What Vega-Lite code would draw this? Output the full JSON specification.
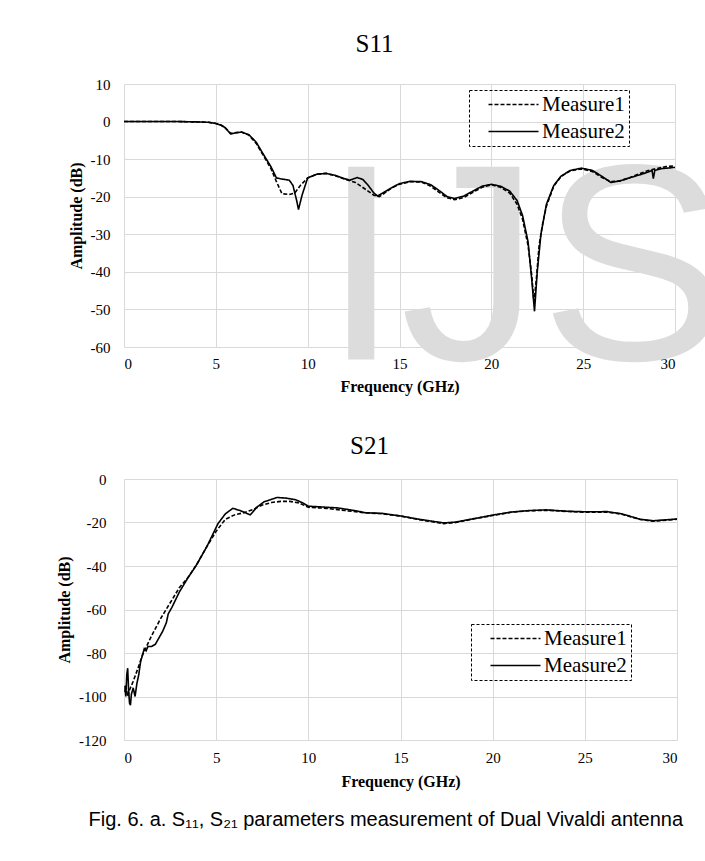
{
  "$schema": "https://vega.github.io/schema/vega-lite/v6.json",
  "background": "white",
  "padding": {"left": 56, "top": 32, "right": 5, "bottom": 5},
  "title": {
    "text": "Fig. 6. a. S₁₁, S₂₁ parameters measurement of Dual Vivaldi antenna",
    "orient": "bottom",
    "anchor": "start",
    "dx": 32,
    "offset": 21,
    "font": "Liberation Sans",
    "fontSize": 20,
    "fontWeight": "normal",
    "color": "black"
  },
  "config": {
    "view": {"stroke": null},
    "axis": {
      "labelFont": "Liberation Serif",
      "labelFontSize": 15,
      "labelColor": "black",
      "titleFont": "Liberation Serif",
      "titleFontSize": 16,
      "titleFontWeight": "bold",
      "titleColor": "black",
      "gridColor": "#d9d9d9",
      "gridWidth": 1,
      "domain": false,
      "ticks": false,
      "zindex": 1
    },
    "legend": {
      "title": null,
      "orient": "none",
      "symbolType": "M-5,0H5",
      "symbolSize": 100,
      "symbolStrokeWidth": 1.5,
      "symbolStrokeColor": "black",
      "symbolFillColor": "transparent",
      "symbolOffset": 30,
      "labelOffset": 18,
      "labelFont": "Liberation Serif",
      "labelFontSize": 21,
      "labelColor": "black",
      "strokeColor": "black",
      "padding": 4,
      "rowPadding": 5
    }
  },
  "datasets": {
    "s11": [
      {"f": 0, "a": 0, "s": "Measure2"}, {"f": 1, "a": 0, "s": "Measure2"}, {"f": 2, "a": 0, "s": "Measure2"}, {"f": 3, "a": 0, "s": "Measure2"}, {"f": 4, "a": -0.1, "s": "Measure2"}, {"f": 4.6, "a": -0.2, "s": "Measure2"}, {"f": 5, "a": -0.5, "s": "Measure2"}, {"f": 5.3, "a": -1, "s": "Measure2"}, {"f": 5.5, "a": -1.6, "s": "Measure2"}, {"f": 5.8, "a": -3.3, "s": "Measure2"}, {"f": 6.1, "a": -3, "s": "Measure2"}, {"f": 6.4, "a": -2.8, "s": "Measure2"}, {"f": 6.8, "a": -3.5, "s": "Measure2"}, {"f": 7.2, "a": -5.5, "s": "Measure2"}, {"f": 7.5, "a": -8, "s": "Measure2"}, {"f": 8.0, "a": -12, "s": "Measure2"}, {"f": 8.3, "a": -15, "s": "Measure2"}, {"f": 8.6, "a": -15.3, "s": "Measure2"}, {"f": 9.0, "a": -15.6, "s": "Measure2"}, {"f": 9.2, "a": -17, "s": "Measure2"}, {"f": 9.4, "a": -21, "s": "Measure2"}, {"f": 9.5, "a": -23.4, "s": "Measure2"}, {"f": 9.7, "a": -19.5, "s": "Measure2"}, {"f": 10.0, "a": -15, "s": "Measure2"}, {"f": 10.5, "a": -14, "s": "Measure2"}, {"f": 11, "a": -13.8, "s": "Measure2"}, {"f": 11.5, "a": -14.3, "s": "Measure2"}, {"f": 12, "a": -15.2, "s": "Measure2"}, {"f": 12.3, "a": -15.6, "s": "Measure2"}, {"f": 12.7, "a": -14.9, "s": "Measure2"}, {"f": 13.0, "a": -15.4, "s": "Measure2"}, {"f": 13.3, "a": -17, "s": "Measure2"}, {"f": 13.6, "a": -19, "s": "Measure2"}, {"f": 13.8, "a": -19.8, "s": "Measure2"}, {"f": 14.1, "a": -19, "s": "Measure2"}, {"f": 14.5, "a": -17.8, "s": "Measure2"}, {"f": 15, "a": -16.5, "s": "Measure2"}, {"f": 15.6, "a": -15.9, "s": "Measure2"}, {"f": 16.2, "a": -16, "s": "Measure2"}, {"f": 16.7, "a": -16.8, "s": "Measure2"}, {"f": 17.2, "a": -18.5, "s": "Measure2"}, {"f": 17.6, "a": -20, "s": "Measure2"}, {"f": 18, "a": -20.5, "s": "Measure2"}, {"f": 18.5, "a": -19.8, "s": "Measure2"}, {"f": 19, "a": -18.5, "s": "Measure2"}, {"f": 19.5, "a": -17.2, "s": "Measure2"}, {"f": 20, "a": -16.7, "s": "Measure2"}, {"f": 20.5, "a": -17.2, "s": "Measure2"}, {"f": 21, "a": -18.5, "s": "Measure2"}, {"f": 21.4, "a": -21, "s": "Measure2"}, {"f": 21.7, "a": -25, "s": "Measure2"}, {"f": 22, "a": -32, "s": "Measure2"}, {"f": 22.2, "a": -42, "s": "Measure2"}, {"f": 22.35, "a": -50.5, "s": "Measure2"}, {"f": 22.5, "a": -40, "s": "Measure2"}, {"f": 22.7, "a": -30, "s": "Measure2"}, {"f": 23, "a": -22, "s": "Measure2"}, {"f": 23.4, "a": -17, "s": "Measure2"}, {"f": 23.8, "a": -14.5, "s": "Measure2"}, {"f": 24.3, "a": -13, "s": "Measure2"}, {"f": 24.9, "a": -12.4, "s": "Measure2"}, {"f": 25.5, "a": -13, "s": "Measure2"}, {"f": 26, "a": -14.5, "s": "Measure2"}, {"f": 26.5, "a": -16.2, "s": "Measure2"}, {"f": 27, "a": -15.8, "s": "Measure2"}, {"f": 27.5, "a": -15, "s": "Measure2"}, {"f": 28, "a": -14.3, "s": "Measure2"}, {"f": 28.5, "a": -13.5, "s": "Measure2"}, {"f": 28.75, "a": -13, "s": "Measure2"}, {"f": 28.82, "a": -15.2, "s": "Measure2"}, {"f": 28.9, "a": -13, "s": "Measure2"}, {"f": 29.3, "a": -12.5, "s": "Measure2"}, {"f": 30, "a": -12.2, "s": "Measure2"},
      {"f": 0, "a": 0, "s": "Measure1"}, {"f": 1, "a": 0, "s": "Measure1"}, {"f": 2, "a": 0, "s": "Measure1"}, {"f": 3, "a": 0, "s": "Measure1"}, {"f": 4, "a": -0.1, "s": "Measure1"}, {"f": 4.6, "a": -0.2, "s": "Measure1"}, {"f": 5, "a": -0.5, "s": "Measure1"}, {"f": 5.3, "a": -1, "s": "Measure1"}, {"f": 5.5, "a": -1.6, "s": "Measure1"}, {"f": 5.8, "a": -3.1, "s": "Measure1"}, {"f": 6.1, "a": -2.9, "s": "Measure1"}, {"f": 6.4, "a": -2.8, "s": "Measure1"}, {"f": 6.8, "a": -3.6, "s": "Measure1"}, {"f": 7.2, "a": -5.8, "s": "Measure1"}, {"f": 7.5, "a": -8.3, "s": "Measure1"}, {"f": 8.0, "a": -12.5, "s": "Measure1"}, {"f": 8.3, "a": -16, "s": "Measure1"}, {"f": 8.6, "a": -19.2, "s": "Measure1"}, {"f": 9.0, "a": -19.4, "s": "Measure1"}, {"f": 9.3, "a": -19, "s": "Measure1"}, {"f": 9.6, "a": -17, "s": "Measure1"}, {"f": 10.0, "a": -15, "s": "Measure1"}, {"f": 10.5, "a": -14, "s": "Measure1"}, {"f": 11, "a": -13.8, "s": "Measure1"}, {"f": 11.5, "a": -14.4, "s": "Measure1"}, {"f": 12, "a": -15.3, "s": "Measure1"}, {"f": 12.6, "a": -16.2, "s": "Measure1"}, {"f": 13.2, "a": -18.2, "s": "Measure1"}, {"f": 13.6, "a": -19.6, "s": "Measure1"}, {"f": 13.9, "a": -20, "s": "Measure1"}, {"f": 14.2, "a": -19, "s": "Measure1"}, {"f": 14.6, "a": -17.6, "s": "Measure1"}, {"f": 15, "a": -16.7, "s": "Measure1"}, {"f": 15.6, "a": -16, "s": "Measure1"}, {"f": 16.2, "a": -16.1, "s": "Measure1"}, {"f": 16.7, "a": -17.2, "s": "Measure1"}, {"f": 17.2, "a": -19, "s": "Measure1"}, {"f": 17.6, "a": -20.3, "s": "Measure1"}, {"f": 18, "a": -20.8, "s": "Measure1"}, {"f": 18.5, "a": -20.2, "s": "Measure1"}, {"f": 19, "a": -18.8, "s": "Measure1"}, {"f": 19.5, "a": -17.5, "s": "Measure1"}, {"f": 20, "a": -16.8, "s": "Measure1"}, {"f": 20.5, "a": -17.5, "s": "Measure1"}, {"f": 21, "a": -19, "s": "Measure1"}, {"f": 21.4, "a": -22, "s": "Measure1"}, {"f": 21.7, "a": -26, "s": "Measure1"}, {"f": 22, "a": -33, "s": "Measure1"}, {"f": 22.2, "a": -41, "s": "Measure1"}, {"f": 22.32, "a": -48, "s": "Measure1"}, {"f": 22.45, "a": -42, "s": "Measure1"}, {"f": 22.6, "a": -33, "s": "Measure1"}, {"f": 22.8, "a": -27, "s": "Measure1"}, {"f": 23, "a": -22.5, "s": "Measure1"}, {"f": 23.4, "a": -17.2, "s": "Measure1"}, {"f": 23.8, "a": -14.6, "s": "Measure1"}, {"f": 24.3, "a": -13.1, "s": "Measure1"}, {"f": 24.9, "a": -12.6, "s": "Measure1"}, {"f": 25.5, "a": -13.3, "s": "Measure1"}, {"f": 26, "a": -14.8, "s": "Measure1"}, {"f": 26.5, "a": -16, "s": "Measure1"}, {"f": 27, "a": -15.8, "s": "Measure1"}, {"f": 27.5, "a": -15, "s": "Measure1"}, {"f": 28, "a": -14, "s": "Measure1"}, {"f": 28.5, "a": -13.1, "s": "Measure1"}, {"f": 29, "a": -12.5, "s": "Measure1"}, {"f": 29.5, "a": -12, "s": "Measure1"}, {"f": 30, "a": -11.8, "s": "Measure1"}
    ],
    "s21": [
      {"f": 0.05, "a": -95, "s": "Measure2"}, {"f": 0.1, "a": -100, "s": "Measure2"}, {"f": 0.15, "a": -90, "s": "Measure2"}, {"f": 0.2, "a": -87, "s": "Measure2"}, {"f": 0.25, "a": -97, "s": "Measure2"}, {"f": 0.3, "a": -103, "s": "Measure2"}, {"f": 0.35, "a": -104, "s": "Measure2"}, {"f": 0.4, "a": -99, "s": "Measure2"}, {"f": 0.5, "a": -96, "s": "Measure2"}, {"f": 0.6, "a": -100, "s": "Measure2"}, {"f": 0.7, "a": -94, "s": "Measure2"}, {"f": 0.8, "a": -90, "s": "Measure2"}, {"f": 0.9, "a": -84, "s": "Measure2"}, {"f": 1.0, "a": -81, "s": "Measure2"}, {"f": 1.1, "a": -78, "s": "Measure2"}, {"f": 1.2, "a": -79, "s": "Measure2"}, {"f": 1.3, "a": -77, "s": "Measure2"}, {"f": 1.5, "a": -77, "s": "Measure2"}, {"f": 1.7, "a": -76, "s": "Measure2"}, {"f": 1.9, "a": -73, "s": "Measure2"}, {"f": 2.1, "a": -70, "s": "Measure2"}, {"f": 2.3, "a": -66, "s": "Measure2"}, {"f": 2.4, "a": -62, "s": "Measure2"}, {"f": 2.6, "a": -59, "s": "Measure2"}, {"f": 3, "a": -52, "s": "Measure2"}, {"f": 3.5, "a": -45, "s": "Measure2"}, {"f": 3.9, "a": -40, "s": "Measure2"}, {"f": 4.5, "a": -31, "s": "Measure2"}, {"f": 5.1, "a": -20.5, "s": "Measure2"}, {"f": 5.5, "a": -16, "s": "Measure2"}, {"f": 5.9, "a": -13.5, "s": "Measure2"}, {"f": 6.3, "a": -14.5, "s": "Measure2"}, {"f": 6.85, "a": -16.5, "s": "Measure2"}, {"f": 7.2, "a": -13, "s": "Measure2"}, {"f": 7.6, "a": -10.5, "s": "Measure2"}, {"f": 8.3, "a": -8.5, "s": "Measure2"}, {"f": 8.8, "a": -8.8, "s": "Measure2"}, {"f": 9.3, "a": -9.5, "s": "Measure2"}, {"f": 9.7, "a": -11, "s": "Measure2"}, {"f": 10, "a": -12.5, "s": "Measure2"}, {"f": 11, "a": -13, "s": "Measure2"}, {"f": 11.6, "a": -13.3, "s": "Measure2"}, {"f": 12.5, "a": -14.5, "s": "Measure2"}, {"f": 13.1, "a": -15.5, "s": "Measure2"}, {"f": 14, "a": -15.8, "s": "Measure2"}, {"f": 15, "a": -17, "s": "Measure2"}, {"f": 16, "a": -18.5, "s": "Measure2"}, {"f": 17.35, "a": -20.2, "s": "Measure2"}, {"f": 18, "a": -19.8, "s": "Measure2"}, {"f": 19, "a": -18.2, "s": "Measure2"}, {"f": 20, "a": -16.6, "s": "Measure2"}, {"f": 21, "a": -15.2, "s": "Measure2"}, {"f": 22, "a": -14.5, "s": "Measure2"}, {"f": 22.9, "a": -14.2, "s": "Measure2"}, {"f": 24, "a": -14.8, "s": "Measure2"}, {"f": 25.1, "a": -15.1, "s": "Measure2"}, {"f": 26.2, "a": -15, "s": "Measure2"}, {"f": 27, "a": -16, "s": "Measure2"}, {"f": 28, "a": -18.5, "s": "Measure2"}, {"f": 28.7, "a": -19.2, "s": "Measure2"}, {"f": 29.5, "a": -18.7, "s": "Measure2"}, {"f": 30, "a": -18.4, "s": "Measure2"},
      {"f": 0.05, "a": -98, "s": "Measure1"}, {"f": 0.1, "a": -95, "s": "Measure1"}, {"f": 0.2, "a": -100, "s": "Measure1"}, {"f": 0.3, "a": -97, "s": "Measure1"}, {"f": 0.5, "a": -93, "s": "Measure1"}, {"f": 0.8, "a": -86, "s": "Measure1"}, {"f": 1, "a": -81, "s": "Measure1"}, {"f": 1.5, "a": -72, "s": "Measure1"}, {"f": 2, "a": -64, "s": "Measure1"}, {"f": 2.5, "a": -57, "s": "Measure1"}, {"f": 3, "a": -50, "s": "Measure1"}, {"f": 3.5, "a": -45, "s": "Measure1"}, {"f": 4, "a": -38.5, "s": "Measure1"}, {"f": 4.5, "a": -31, "s": "Measure1"}, {"f": 5, "a": -24, "s": "Measure1"}, {"f": 5.5, "a": -18.5, "s": "Measure1"}, {"f": 6, "a": -16.5, "s": "Measure1"}, {"f": 6.5, "a": -15.5, "s": "Measure1"}, {"f": 7, "a": -14, "s": "Measure1"}, {"f": 7.5, "a": -12, "s": "Measure1"}, {"f": 8, "a": -10.8, "s": "Measure1"}, {"f": 8.5, "a": -10.3, "s": "Measure1"}, {"f": 9, "a": -10.3, "s": "Measure1"}, {"f": 9.5, "a": -11, "s": "Measure1"}, {"f": 10, "a": -13, "s": "Measure1"}, {"f": 11, "a": -13.5, "s": "Measure1"}, {"f": 12, "a": -14.5, "s": "Measure1"}, {"f": 13, "a": -15.5, "s": "Measure1"}, {"f": 14, "a": -16, "s": "Measure1"}, {"f": 15, "a": -17, "s": "Measure1"}, {"f": 16, "a": -18.7, "s": "Measure1"}, {"f": 17.35, "a": -20.5, "s": "Measure1"}, {"f": 18, "a": -20, "s": "Measure1"}, {"f": 19, "a": -18.3, "s": "Measure1"}, {"f": 20, "a": -16.8, "s": "Measure1"}, {"f": 21, "a": -15.3, "s": "Measure1"}, {"f": 22, "a": -14.6, "s": "Measure1"}, {"f": 23, "a": -14.4, "s": "Measure1"}, {"f": 24, "a": -14.9, "s": "Measure1"}, {"f": 25, "a": -15.3, "s": "Measure1"}, {"f": 26.2, "a": -15.2, "s": "Measure1"}, {"f": 27, "a": -16.2, "s": "Measure1"}, {"f": 28, "a": -18.6, "s": "Measure1"}, {"f": 28.7, "a": -19.4, "s": "Measure1"}, {"f": 29.5, "a": -18.9, "s": "Measure1"}, {"f": 30, "a": -18.5, "s": "Measure1"}
    ],
    "wm": [{"f": 10.8, "a": -63.3, "t": "IJS"}]
  },
  "concat": [
    {
      "width": 551,
      "height": 263,
      "title": {"text": "S11", "font": "Liberation Serif", "fontSize": 25, "fontWeight": "normal", "color": "black", "dx": -25, "offset": 20},
      "encoding": {
        "x": {"field": "f", "type": "quantitative", "scale": {"domain": [0, 30], "nice": false},
          "axis": {"title": "Frequency (GHz)", "values": [0, 5, 10, 15, 20, 25, 30], "labelPadding": 9, "titlePadding": 7, "labelExpr": "'' + datum.value"}},
        "y": {"field": "a", "type": "quantitative", "scale": {"domain": [-60, 10], "nice": false},
          "axis": {"title": "Amplitude (dB)", "values": [-60, -50, -40, -30, -20, -10, 0, 10], "labelPadding": 14, "titlePadding": 6, "labelExpr": "'' + datum.value"}}
      },
      "layer": [
        {
          "data": {"name": "wm"},
          "mark": {"type": "text", "align": "left", "baseline": "alphabetic", "font": "Liberation Sans", "fontSize": 280, "color": "#dcdcdc", "clip": false},
          "encoding": {"text": {"field": "t"}}
        },
        {
          "data": {"name": "s11"},
          "mark": {"type": "line", "color": "black", "strokeWidth": 1.6},
          "encoding": {
            "strokeDash": {"field": "s", "type": "nominal",
              "scale": {"domain": ["Measure1", "Measure2"], "range": [[4, 2], [1, 0]]},
              "legend": {"legendX": 345, "legendY": 6, "labelExpr": "datum.label + '\u00a0\u00a0\u00a0\u00a0'", "encode": {"legend": {"update": {"strokeDash": {"value": [3, 2]}}}}}},
            "order": {"field": "f", "type": "quantitative"}
          }
        }
      ]
    },
    {
      "width": 553,
      "height": 261,
      "title": {"text": "S21", "font": "Liberation Serif", "fontSize": 25, "fontWeight": "normal", "color": "black", "dx": -31, "offset": 13},
      "data": {"name": "s21"},
      "mark": {"type": "line", "color": "black", "strokeWidth": 1.6},
      "encoding": {
        "x": {"field": "f", "type": "quantitative", "scale": {"domain": [0, 30], "nice": false},
          "axis": {"title": "Frequency (GHz)", "values": [0, 5, 10, 15, 20, 25, 30], "labelPadding": 10, "titlePadding": 8, "labelExpr": "'' + datum.value"}},
        "y": {"field": "a", "type": "quantitative", "scale": {"domain": [-120, 0], "nice": false},
          "axis": {"title": "Amplitude (dB)", "values": [-120, -100, -80, -60, -40, -20, 0], "labelPadding": 18, "titlePadding": 6, "labelExpr": "'' + datum.value"}},
        "strokeDash": {"field": "s", "type": "nominal",
          "scale": {"domain": ["Measure1", "Measure2"], "range": [[4, 2], [1, 0]]},
          "legend": {"legendX": 347, "legendY": 145, "labelExpr": "datum.label + '\u00a0\u00a0\u00a0\u00a0'", "encode": {"legend": {"update": {"strokeDash": {"value": [3, 2]}}}}}},
        "order": {"field": "f", "type": "quantitative"}
      }
    }
  ],
  "resolve": {"scale": {"strokeDash": "independent"}, "legend": {"strokeDash": "independent"}},
  "columns": 1,
  "align": "none",
  "spacing": 18
}
